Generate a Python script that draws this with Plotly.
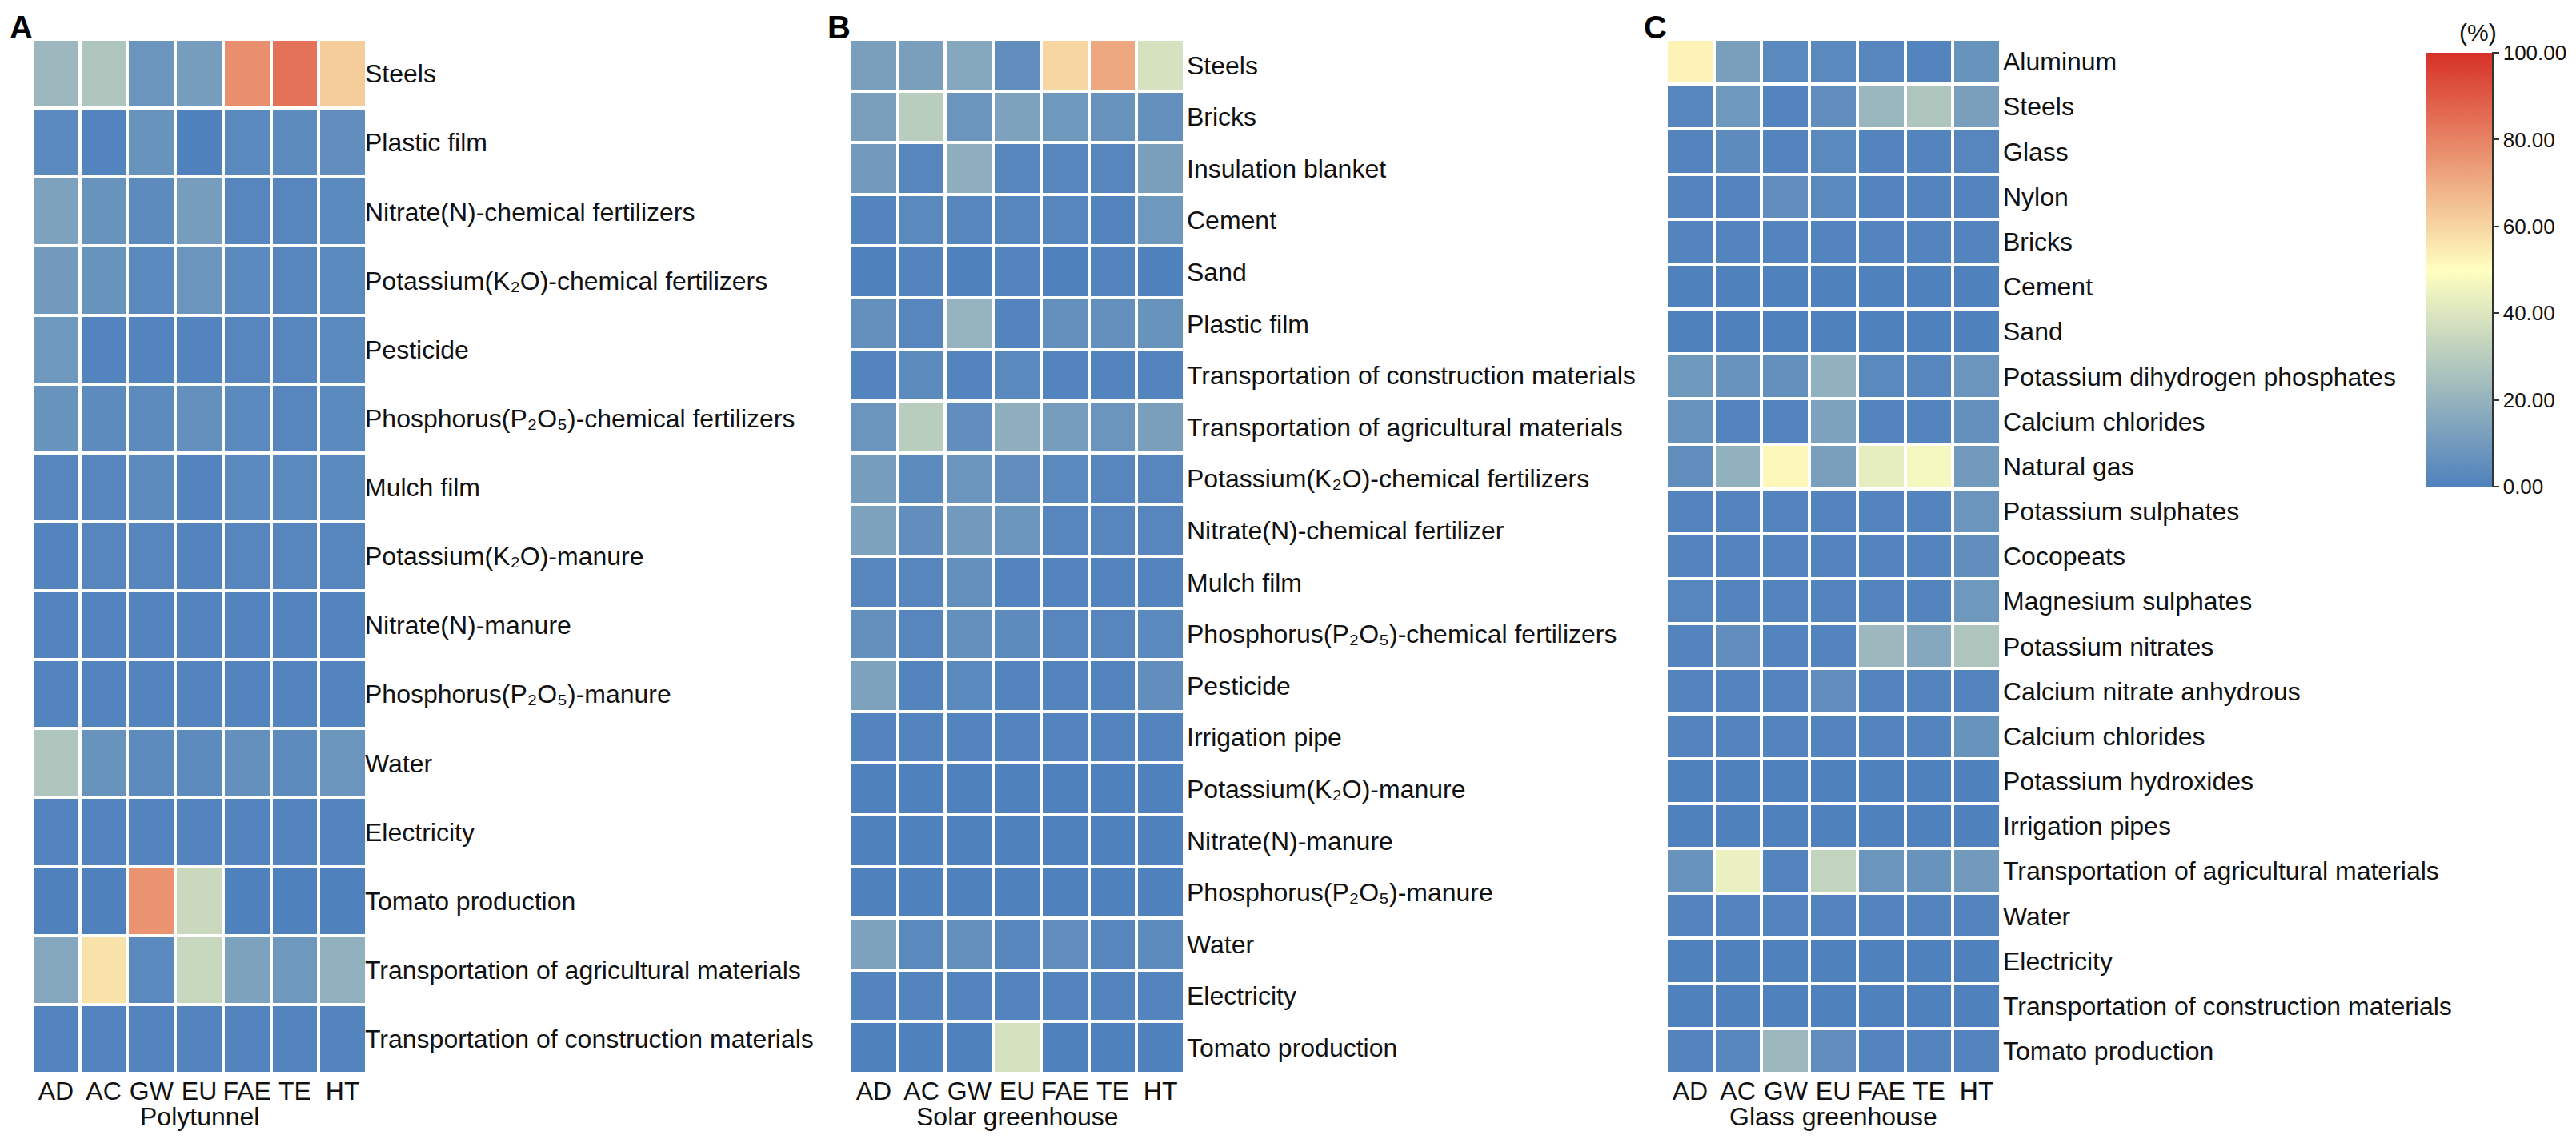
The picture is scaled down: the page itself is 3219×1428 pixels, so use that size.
import plotly.graph_objects as go

W, H = 3219, 1428
FONT = "Liberation Sans, Arial, sans-serif"

cols = ["AD", "AC", "GW", "EU", "FAE", "TE", "HT"]

rows_A = ["Steels", "Plastic film", "Nitrate(N)-chemical fertilizers",
          "Potassium(K₂O)-chemical fertilizers", "Pesticide",
          "Phosphorus(P₂O₅)-chemical fertilizers", "Mulch film",
          "Potassium(K₂O)-manure", "Nitrate(N)-manure", "Phosphorus(P₂O₅)-manure",
          "Water", "Electricity", "Tomato production",
          "Transportation of agricultural materials",
          "Transportation of construction materials"]
vals_A = [
    [22, 27, 8, 11, 77, 84, 62],
    [3, 1, 7, 0, 3, 4, 5],
    [13, 7, 4, 11, 2, 2, 3],
    [10, 7, 3, 8, 3, 2, 3],
    [9, 1, 1, 1, 2, 2, 3],
    [7, 4, 4, 6, 3, 2, 3],
    [2, 2, 4, 1, 3, 3, 3],
    [1, 2, 2, 1, 2, 2, 2],
    [1, 1, 1, 1, 1, 1, 1],
    [1, 1, 1, 1, 1, 1, 1],
    [27, 7, 4, 4, 6, 4, 8],
    [1, 1, 1, 1, 1, 1, 1],
    [0, 0, 76, 35, 0, 0, 0],
    [15, 57, 3, 34, 13, 9, 19],
    [1, 1, 1, 1, 1, 1, 1],
]

rows_B = ["Steels", "Bricks", "Insulation blanket", "Cement", "Sand", "Plastic film",
          "Transportation of construction materials",
          "Transportation of agricultural materials",
          "Potassium(K₂O)-chemical fertilizers", "Nitrate(N)-chemical fertilizer",
          "Mulch film", "Phosphorus(P₂O₅)-chemical fertilizers", "Pesticide",
          "Irrigation pipe", "Potassium(K₂O)-manure", "Nitrate(N)-manure",
          "Phosphorus(P₂O₅)-manure", "Water", "Electricity", "Tomato production"]
vals_B = [
    [12, 12, 15, 5, 60, 71, 38],
    [12, 30, 8, 13, 9, 7, 6],
    [10, 2, 18, 2, 2, 2, 12],
    [1, 3, 2, 2, 2, 1, 9],
    [0, 1, 0, 1, 0, 1, 0],
    [6, 2, 20, 1, 6, 6, 7],
    [1, 4, 1, 3, 1, 1, 1],
    [8, 30, 5, 18, 11, 8, 12],
    [11, 4, 8, 5, 3, 2, 2],
    [13, 5, 10, 8, 2, 2, 2],
    [2, 2, 6, 1, 1, 1, 1],
    [6, 2, 6, 4, 2, 2, 3],
    [13, 1, 3, 1, 1, 1, 5],
    [1, 1, 1, 1, 1, 1, 1],
    [0, 0, 0, 0, 0, 0, 0],
    [0, 0, 0, 0, 0, 0, 0],
    [0, 0, 0, 0, 0, 0, 0],
    [13, 3, 6, 2, 5, 2, 4],
    [1, 1, 1, 1, 1, 1, 1],
    [0, 0, 0, 38, 0, 0, 0],
]

rows_C = ["Aluminum", "Steels", "Glass", "Nylon", "Bricks", "Cement", "Sand",
          "Potassium dihydrogen phosphates", "Calcium chlorides", "Natural gas",
          "Potassium sulphates", "Cocopeats", "Magnesium sulphates",
          "Potassium nitrates", "Calcium nitrate anhydrous", "Calcium chlorides",
          "Potassium hydroxides", "Irrigation pipes",
          "Transportation of agricultural materials", "Water", "Electricity",
          "Transportation of construction materials", "Tomato production"]
vals_C = [
    [53, 12, 3, 3, 2, 1, 7],
    [2, 9, 1, 5, 21, 27, 12],
    [1, 4, 1, 3, 1, 1, 2],
    [1, 1, 5, 3, 1, 1, 1],
    [1, 1, 1, 1, 1, 1, 1],
    [0, 0, 0, 0, 0, 0, 0],
    [0, 0, 0, 0, 0, 0, 0],
    [9, 7, 6, 19, 3, 2, 8],
    [7, 1, 1, 13, 1, 1, 6],
    [5, 19, 52, 12, 43, 47, 10],
    [1, 1, 1, 1, 1, 1, 8],
    [1, 1, 1, 1, 1, 1, 5],
    [2, 1, 1, 1, 1, 1, 9],
    [1, 5, 1, 1, 22, 15, 27],
    [1, 1, 1, 5, 1, 1, 1],
    [1, 1, 1, 1, 1, 1, 7],
    [0, 0, 0, 0, 0, 0, 0],
    [0, 0, 0, 0, 0, 0, 0],
    [7, 44, 1, 33, 8, 7, 10],
    [1, 1, 1, 1, 1, 1, 1],
    [0, 0, 0, 0, 0, 0, 0],
    [0, 0, 0, 0, 0, 0, 0],
    [1, 2, 22, 5, 1, 1, 1],
]

panel_titles = ["Polytunnel", "Solar greenhouse", "Glass greenhouse"]
panel_letters = ["A", "B", "C"]
cbar_ticks = [0, 20, 40, 60, 80, 100]

colorscale = [[0.0, "rgb(79,129,189)"], [0.5, "rgb(255,255,191)"], [1.0, "rgb(215,48,39)"]]

# layout geometry (pixels)
x_left = [32, 1054, 2074]
panel_w = 418
y_top, y_bot = 41, 1333
label_standoff = [-3, 2, 2]

fig = go.Figure()
panels = [(rows_A, vals_A), (rows_B, vals_B), (rows_C, vals_C)]
for i, (rows, vals) in enumerate(panels):
    xa = "x" if i == 0 else f"x{i+1}"
    ya = "y" if i == 0 else f"y{i+1}"
    fig.add_trace(go.Heatmap(
        z=vals, x=cols, y=list(range(len(rows))),
        coloraxis="coloraxis", xgap=4, ygap=4,
        xaxis=xa, yaxis=ya, hoverinfo="skip"))
    xk = "xaxis" if i == 0 else f"xaxis{i+1}"
    yk = "yaxis" if i == 0 else f"yaxis{i+1}"
    fig.layout[xk] = dict(
        domain=[x_left[i] / W, (x_left[i] + panel_w) / W],
        anchor=ya, showgrid=False, zeroline=False, showline=False, ticks="",
        tickfont=dict(size=32, color="#111", family=FONT), ticklabelstandoff=0)
    fig.layout[yk] = dict(
        domain=[1 - y_bot / H, 1 - y_top / H], anchor=xa, side="right",
        autorange="reversed", showgrid=False, zeroline=False, showline=False,
        ticks="", tickmode="array", tickvals=list(range(len(rows))), ticktext=rows,
        tickfont=dict(size=32, color="#111", family=FONT),
        ticklabelstandoff=label_standoff[i])
    fig.add_annotation(x=(x_left[i] + panel_w / 2) / W, y=1 - 1387 / H,
                       xref="paper", yref="paper", text=panel_titles[i],
                       showarrow=False, font=dict(size=32, color="#111", family=FONT),
                       xanchor="center", yanchor="middle")
    fig.add_annotation(x=(x_left[i] - 14) / W, y=1 - 26 / H,
                       xref="paper", yref="paper", text=f"<b>{panel_letters[i]}</b>",
                       showarrow=False, font=dict(size=40, color="#000", family=FONT),
                       xanchor="center", yanchor="middle")

cb_x0, cb_x1, cb_top, cb_bot = 3024, 3106, 58, 600
fig.update_layout(
    width=W, height=H, margin=dict(l=0, r=0, t=0, b=0),
    paper_bgcolor="white", plot_bgcolor="white",
    font=dict(family=FONT, color="#111"),
    coloraxis=dict(
        colorscale=colorscale, cmin=0, cmax=100,
        colorbar=dict(
            x=cb_x0 / W, xanchor="left", xpad=0, ypad=0,
            y=1 - (cb_top + cb_bot) / 2 / H, yanchor="middle",
            len=(cb_bot - cb_top) / H, lenmode="fraction",
            thickness=cb_x1 - cb_x0, thicknessmode="pixels",
            outlinewidth=0, tickmode="array", tickvals=cbar_ticks,
            tickformat=".2f", ticks="outside", ticklen=9, tickwidth=2,
            tickcolor="#333", tickfont=dict(size=26, color="#111", family=FONT))),
)
fig.add_shape(type="line", xref="paper", yref="paper",
              x0=(cb_x1 + 1) / W, x1=(cb_x1 + 1) / W,
              y0=1 - cb_bot / H, y1=1 - cb_top / H,
              line=dict(color="#333", width=2))
fig.add_annotation(x=3088 / W, y=1 - 32 / H, xref="paper", yref="paper",
                   text="(%)", showarrow=False,
                   font=dict(size=30, color="#111", family=FONT),
                   xanchor="center", yanchor="middle")

fig.write_html("out.html")
